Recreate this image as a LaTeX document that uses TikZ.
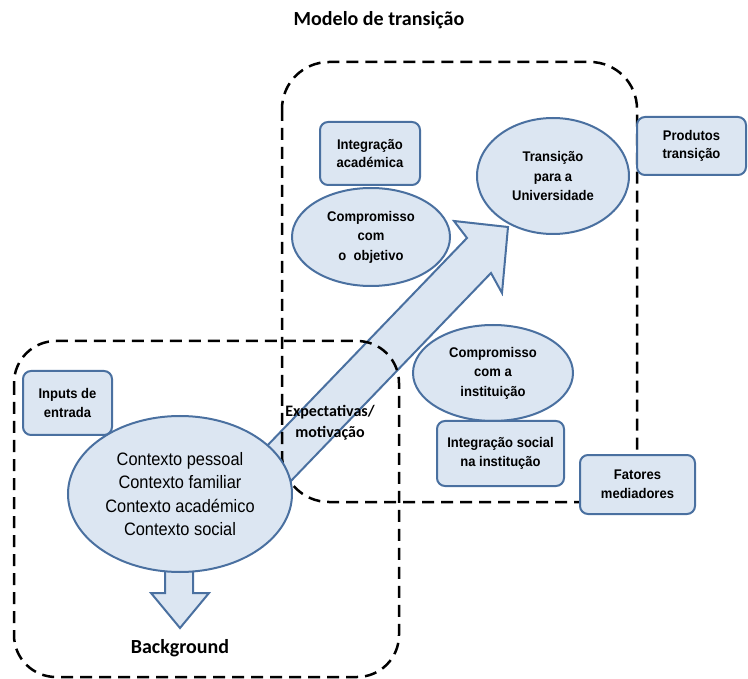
\documentclass[tikz,border=0pt]{standalone}
\usepackage{fontspec}
\setmainfont{Carlito}
\newfontfamily\lblfont{Liberation Sans}[FakeStretch=0.93]
\newfontfamily\ctxfont{Liberation Sans}[FakeStretch=0.91]
\usetikzlibrary{shapes.geometric}
\definecolor{fillb}{HTML}{DCE6F2}
\definecolor{edgeb}{HTML}{4A70A0}
\tikzset{
  dashbox/.style={draw=black, line width=2.5pt, dash pattern=on 12pt off 7pt},
  roundbox/.style={draw=edgeb, fill=fillb, line width=2pt, rounded corners=8pt, inner sep=0pt, align=center, font=\lblfont\fontsize{14}{18.5}\selectfont\bfseries},
  oval/.style={ellipse, draw=edgeb, fill=fillb, line width=2pt, inner sep=0pt, align=center, font=\lblfont\fontsize{14}{19.5}\selectfont\bfseries},
  blockarrow/.style={draw=edgeb, fill=fillb, line width=2pt, line join=miter},
  heading/.style={font=\fontsize{20}{24}\selectfont\bfseries, inner sep=0pt},
  plainlbl/.style={align=center, inner sep=0pt, font=\fontsize{16}{21}\selectfont\bfseries}
}
\begin{document}
\begin{tikzpicture}[x=1pt,y=-1pt]
\useasboundingbox (0,0) rectangle (748,679);

% title
\node[heading] (title) at (379,20) {Modelo de transição};

% diagonal block arrow (drawn first)
\coordinate (t1) at (240,474);
\coordinate (n1) at (467,238);
\coordinate (b1) at (454,221);
\coordinate (tip) at (508,227);
\coordinate (b2) at (502,293);
\coordinate (n2) at (491,273);
\coordinate (t2) at (264,509);
\draw[blockarrow] (t1) -- (n1) -- (b1) -- (tip) -- (b2) -- (n2) -- (t2) -- cycle;

% down block arrow
\coordinate (d1) at (165,540);
\coordinate (d2) at (193,540);
\coordinate (d3) at (193,593);
\coordinate (d4) at (209,593);
\coordinate (dtip) at (180,628);
\coordinate (d5) at (151,593);
\coordinate (d6) at (165,593);
\draw[blockarrow] (d1) -- (d2) -- (d3) -- (d4) -- (dtip) -- (d5) -- (d6) -- cycle;

% dashed regions
\draw[dashbox, rounded corners=47pt] (282,62) rectangle (637,502);
\draw[dashbox, rounded corners=42pt] (14,341) rectangle (399,677);

% ellipses
\node[oval, minimum width=158pt, minimum height=98pt] (obj) at (371,237) {Compromisso\\com\\o\ \ objetivo};
\node[oval, minimum width=152pt, minimum height=116pt] (trans) at (553,176) {Transição\\para a\\Universidade};
\node[oval, minimum width=160pt, minimum height=96pt] (inst) at (493,373) {Compromisso\\com a\\instituição};
\node[ellipse, draw=edgeb, fill=fillb, line width=2pt, inner sep=0pt, align=center,
      font=\ctxfont\fontsize{18}{23.5}\selectfont, minimum width=224pt, minimum height=156pt] (ctx) at (180,494)
      {Contexto pessoal\\Contexto familiar\\Contexto académico\\Contexto social};

% boxes
\node[roundbox, minimum width=100pt, minimum height=63pt] (iacad) at (370,153.5) {Integração\\académica};
\node[roundbox, minimum width=109pt, minimum height=58pt] (prod) at (691.5,146) {Produtos\\transição};
\node[roundbox, minimum width=89pt, minimum height=64pt] (inp) at (67.5,403) {Inputs de\\entrada};
\node[roundbox, minimum width=127pt, minimum height=65pt] (isoc) at (500.5,453.5) {Integração social\\na institução};
\node[roundbox, minimum width=115pt, minimum height=59pt] (fat) at (637.5,484.5) {Fatores\\mediadores};

% free labels
\node[plainlbl] (expect) at (330,423) {Expectativas/\\motivação};
\node[heading] (bg) at (180,648) {Background};
\end{tikzpicture}
\end{document}
